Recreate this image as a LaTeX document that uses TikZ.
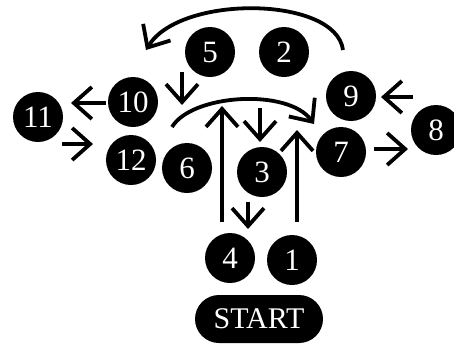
\documentclass[tikz,border=0pt]{standalone}
\usepackage{fontspec}
\setmainfont{Liberation Serif}
\usetikzlibrary{arrows.meta}
\begin{document}
\begin{tikzpicture}[x=1pt,y=-1pt,
  num/.style={circle,fill=black,text=white,minimum size=50pt,inner sep=0pt,
    font=\fontsize{31}{34}\selectfont},
  startbox/.style={rounded corners=24pt,fill=black,text=white,minimum width=128pt,
    minimum height=48pt,inner sep=0pt,font=\fontsize{30}{34}\selectfont},
  flow/.style={line width=3.8pt,-{Straight Barb[length=18pt,width=32pt,line width=3.8pt]}}]
\useasboundingbox (0,0) rectangle (454,343);

% numbered stations
\node[num] (n5) at (210,52) {5};
\node[num] (n2) at (284,52) {2};
\node[num] (n9) at (351,96) {9};
\node[num] (n8) at (436,130) {8};
\node[num] (n10) at (133,102) {10};
\node[num] (n11) at (38,117) {11};
\node[num] (n12) at (131,160) {12};
\node[num] (n6) at (187,168) {6};
\node[num] (n7) at (341,152) {7};
\node[num] (n3) at (262,172) {3};
\node[num] (n4) at (230,258) {4};
\node[num] (n1) at (292,260) {1};
\node[startbox] (start) at (259,319) {START};

% arrow end points
\coordinate (topR) at (343,50);
\coordinate (topL) at (146,50);
\coordinate (midL) at (172,127);
\coordinate (midR) at (314,124);
\coordinate (a5s) at (182,72);
\coordinate (a5e) at (182,105);
\coordinate (upLs) at (222,222);
\coordinate (upLe) at (222,106);
\coordinate (upRs) at (297,222);
\coordinate (upRe) at (297,130);
\coordinate (dMs) at (260,108);
\coordinate (dMe) at (260,142);
\coordinate (d3s) at (248,202);
\coordinate (d3e) at (248,229);
\coordinate (a10s) at (106,103);
\coordinate (a10e) at (71,103);
\coordinate (a11s) at (62,144);
\coordinate (a11e) at (93,144);
\coordinate (a8s) at (413,97);
\coordinate (a8e) at (381,97);
\coordinate (a7s) at (374,149);
\coordinate (a7e) at (408,149);

% connectors
\draw[flow] (topR) .. controls (336,-4) and (180,-6) .. (topL);
\draw[flow] (midL) .. controls (192,94) and (288,88) .. (midR);
\draw[flow] (a5s) -- (a5e);
\draw[flow] (upLs) -- (upLe);
\draw[flow] (upRs) -- (upRe);
\draw[flow] (dMs) -- (dMe);
\draw[flow] (d3s) -- (d3e);
\draw[flow] (a10s) -- (a10e);
\draw[flow] (a11s) -- (a11e);
\draw[flow] (a8s) -- (a8e);
\draw[flow] (a7s) -- (a7e);
\end{tikzpicture}
\end{document}
